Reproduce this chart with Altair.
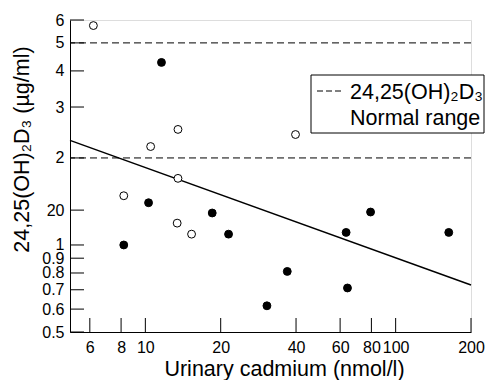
import altair as alt
import pandas as pd

# ---- data ----
open_x = [6.2, 10.5, 13.5, 39.8, 13.5, 8.2, 13.4, 15.3]
open_y = [5.74, 2.19, 2.51, 2.41, 1.70, 1.48, 1.19, 1.09]
filled_x = [11.6, 10.3, 18.5, 21.5, 8.2, 36.9, 63.4, 79.4, 163.0, 64.2, 30.6]
filled_y = [4.28, 1.40, 1.29, 1.09, 1.00, 0.81, 1.105, 1.30, 1.105, 0.71, 0.616]
fit_x = [5, 200]
fit_y = [2.30, 0.727]
normal_range = [2, 5]
x_ticks = [6, 8, 10, 20, 40, 60, 80, 100, 200]
y_ticks = [0.5, 0.6, 0.7, 0.8, 0.9, 1, 1.32, 2, 3, 4, 5, 6]
y_tick_labels = ["0.5", "0.6", "0.7", "0.8", "0.9", "1", "20", "2", "3", "4", "5", "6"]
legend_lines = ["24,25(OH)\u2082D\u2083", "Normal range"]
x_title = "Urinary cadmium (nmol/l)"
y_title = "24,25(OH)\u2082D\u2083 (\u00b5g/ml)"

FONT = "Liberation Sans"
W, H = 401, 312

pts = pd.DataFrame({
    "x": open_x + filled_x,
    "y": open_y + filled_y,
    "kind": ["open"] * len(open_x) + ["filled"] * len(filled_x),
})
fit = pd.DataFrame({"x": fit_x, "y": fit_y})
ranges = pd.DataFrame({"y": normal_range})
xt = pd.DataFrame({"x": x_ticks})
yt = pd.DataFrame({"y": y_ticks})

xscale = alt.Scale(type="log", domain=[5, 200], nice=False, zero=False)
yscale = alt.Scale(type="log", domain=[0.5, 6], nice=False, zero=False)

y_label_expr = "[" + ",".join("'%s'" % s for s in y_tick_labels) + "][indexof([" + \
    ",".join(str(v) for v in y_ticks) + "], datum.value)]"

xaxis = alt.Axis(values=x_ticks, format="d", title=x_title, titleX=214, titleY=43,
                 titleAlign="center", titleBaseline="alphabetic", titleFontSize=21.5,
                 titleFontWeight="normal", labelFontSize=16, labelPadding=7,
                 ticks=False, grid=False, domainColor="black", labelFlush=False,
                 labelOverlap=False, labelColor="black", titleColor="black",
                 labelFont=FONT, titleFont=FONT)
yaxis = alt.Axis(values=y_ticks, labelExpr=y_label_expr, title=y_title, titleX=-42,
                 titleY=129, titleAngle=270, titleAlign="center",
                 titleBaseline="alphabetic", titleFontSize=21.5, titleFontWeight="normal",
                 labelFontSize=16, labelPadding=6, ticks=False, grid=False,
                 domainColor="black", labelFlush=False, labelOverlap=False,
                 labelColor="black", titleColor="black", labelFont=FONT, titleFont=FONT)

X = alt.X("x:Q", scale=xscale, axis=xaxis)
Y = alt.Y("y:Q", scale=yscale, axis=yaxis)

dashed = alt.Chart(ranges).mark_rule(color="black", strokeWidth=1, strokeDash=[7, 4]).encode(y=Y)
line = alt.Chart(fit).mark_line(color="black", strokeWidth=1.5).encode(x=X, y=Y)
points = alt.Chart(pts).mark_point(shape="circle", size=62, stroke="black",
                                   strokeWidth=1, opacity=1, filled=False).encode(
    x=X, y=Y,
    fill=alt.Fill("kind:N", scale=alt.Scale(domain=["open", "filled"], range=["white", "black"]),
                  legend=None),
)
xtick = alt.Chart(xt).mark_rule(color="black", strokeWidth=1).encode(
    x=X, y=alt.value(H), y2=alt.value(H - 14))
ytick = alt.Chart(yt).mark_rule(color="black", strokeWidth=1).encode(
    y=Y, x=alt.value(0), x2=alt.value(14))

one = pd.DataFrame({"label": [legend_lines[0]]})
two = pd.DataFrame({"label": [legend_lines[1]]})
box = alt.Chart(one).mark_rect(fill="white", stroke="black", strokeWidth=1).encode(
    x=alt.value(241), x2=alt.value(414), y=alt.value(55), y2=alt.value(113))
sample = alt.Chart(one).mark_rule(color="black", strokeWidth=1, strokeDash=[6, 3]).encode(
    x=alt.value(247), x2=alt.value(272), y=alt.value(71), y2=alt.value(71))
t1 = alt.Chart(one).mark_text(align="left", baseline="alphabetic", fontSize=21.5, font=FONT,
                              color="black").encode(
    text="label:N", x=alt.value(280), y=alt.value(78.5))
t2 = alt.Chart(two).mark_text(align="left", baseline="alphabetic", fontSize=21.5, font=FONT,
                              color="black").encode(
    text="label:N", x=alt.value(280), y=alt.value(105))

chart = alt.layer(dashed, line, points, xtick, ytick, box, sample, t1, t2).properties(
    width=W, height=H,
    autosize=alt.AutoSizeParams(type="none"),
    padding={"left": 62, "top": 12, "right": 14, "bottom": 48},
).configure_view(stroke=None).configure(background="white")

chart.save("out.html", embed_options={"renderer": "svg", "actions": False})
